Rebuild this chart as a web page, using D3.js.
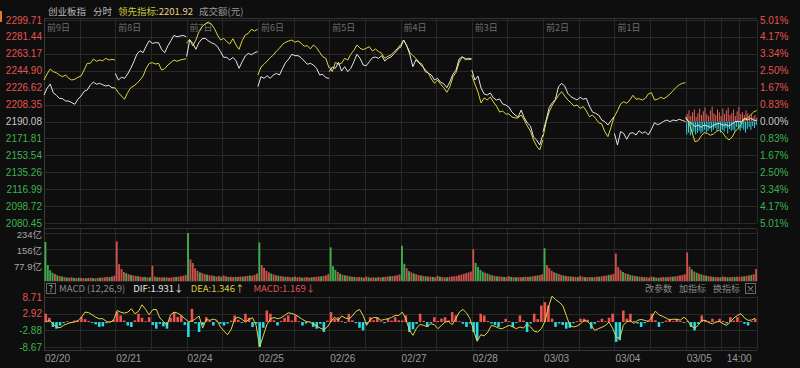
<!DOCTYPE html>
<html>
<head>
<meta charset="utf-8">
<script src="https://cdn.jsdelivr.net/npm/d3@7"></script>
<style>
  body { margin: 0; background: #0e0e0e; }
  text { font-family: "Noto Sans CJK SC", "Noto Sans", sans-serif; }
  text.num { font-family: "Liberation Sans", "Noto Sans CJK SC", sans-serif; }
</style>
</head>
<body>
<div class="svg-container"></div>
<script>
// axis labels
var dayNames = ["前9日", "前8日", "前7日", "前6日", "前5日", "前4日", "前3日", "前2日", "前1日", ""];
var dates = ["02/20", "02/21", "02/24", "02/25", "02/26", "02/27", "02/28", "03/03", "03/04", "03/05"];
var priceTicks = [2299.71, 2281.44, 2263.17, 2244.90, 2226.62, 2208.35, 2190.08, 2171.81, 2153.54, 2135.26, 2116.99, 2098.72, 2080.45];
var pctTicks = ["5.01%", "4.17%", "3.34%", "2.50%", "1.67%", "0.83%", "0.00%", "0.83%", "1.67%", "2.50%", "3.34%", "4.17%", "5.01%"];
var volTicks = [234, 156, 77.9];
var volTickLabels = ["234亿", "156亿", "77.9亿"];
var macdTicks = [8.71, 2.92, -2.88, -8.67];
var prevClose = 2190.08;

// 创业板指, 24 samples per day
var indexPrice = [
  [2218.7, 2226.0, 2230.6, 2221.2, 2218.4, 2215.1, 2214.7, 2212.2, 2212.2, 2210.4, 2208.7, 2214.1, 2217.6, 2222.7, 2224.1, 2229.5, 2232.7, 2230.3, 2231.3, 2229.8, 2228.4, 2229.2, 2226.6, 2226.3],
  [2242.1, 2234.9, 2237.8, 2236.7, 2241.4, 2247.5, 2254.6, 2262.9, 2266.5, 2264.4, 2271.6, 2277.3, 2274.5, 2275.2, 2275.2, 2268.0, 2264.4, 2271.6, 2277.3, 2283.1, 2281.6, 2282.4, 2283.1, 2281.6],
  [2260.1, 2278.1, 2274.6, 2268.1, 2275.2, 2279.5, 2279.9, 2277.3, 2275.2, 2273.8, 2270.9, 2265.5, 2259.4, 2259.4, 2256.5, 2259.4, 2255.7, 2247.5, 2254.6, 2260.8, 2263.7, 2262.2, 2264.4, 2265.5],
  [2227.7, 2238.5, 2236.7, 2239.5, 2236.7, 2240.3, 2242.1, 2240.3, 2247.5, 2254.0, 2257.6, 2262.7, 2261.2, 2261.2, 2259.0, 2255.4, 2251.9, 2252.9, 2251.1, 2247.5, 2240.3, 2241.1, 2237.4, 2236.7],
  [2243.9, 2248.9, 2247.5, 2254.0, 2244.6, 2249.3, 2243.9, 2247.5, 2254.7, 2262.7, 2258.3, 2251.1, 2250.3, 2254.7, 2259.0, 2259.7, 2258.3, 2261.2, 2255.4, 2258.3, 2259.7, 2263.3, 2267.0, 2270.6],
  [2269.8, 2278.1, 2272.0, 2262.7, 2249.3, 2256.8, 2253.3, 2249.7, 2246.1, 2242.1, 2240.3, 2234.9, 2236.7, 2232.4, 2230.9, 2226.6, 2233.1, 2241.1, 2245.7, 2257.6, 2260.1, 2256.8, 2258.3, 2257.6],
  [2245.7, 2234.9, 2239.2, 2226.3, 2219.8, 2218.7, 2220.9, 2215.5, 2213.3, 2214.4, 2209.0, 2207.9, 2205.7, 2200.3, 2197.1, 2194.9, 2202.5, 2193.9, 2188.5, 2185.2, 2173.3, 2170.1, 2164.7, 2175.5],
  [2179.1, 2191.7, 2205.4, 2210.4, 2214.1, 2227.7, 2231.3, 2228.4, 2220.5, 2216.9, 2215.1, 2213.3, 2216.2, 2214.1, 2215.1, 2206.8, 2200.3, 2198.9, 2197.1, 2191.7, 2189.9, 2186.3, 2191.0, 2195.3],
  [2177.3, 2164.7, 2179.1, 2177.3, 2170.9, 2177.3, 2178.0, 2175.5, 2180.1, 2177.3, 2179.1, 2175.5, 2181.7, 2188.8, 2186.6, 2188.1, 2190.3, 2191.7, 2189.9, 2191.7, 2190.9, 2192.5, 2191.2, 2190.1],
  [2193.5, 2189.9, 2188.1, 2184.5, 2186.3, 2183.8, 2186.3, 2185.2, 2183.8, 2186.0, 2187.4, 2188.1, 2186.0, 2186.6, 2185.2, 2187.4, 2189.9, 2190.3, 2189.5, 2193.5, 2191.7, 2193.5, 2191.7, 2190.9]
];

// 领先指标
var leadPrice = [
  [2234.9, 2241.4, 2246.8, 2243.9, 2242.8, 2240.3, 2238.4, 2240.3, 2236.7, 2234.9, 2235.7, 2237.8, 2239.2, 2245.7, 2252.9, 2252.9, 2257.6, 2255.1, 2256.5, 2255.7, 2258.3, 2256.5, 2257.2, 2256.5],
  [2226.0, 2221.2, 2217.6, 2214.1, 2221.2, 2226.6, 2228.4, 2231.3, 2234.9, 2239.2, 2247.5, 2252.9, 2253.6, 2252.2, 2252.9, 2245.7, 2247.1, 2251.1, 2253.6, 2256.5, 2255.1, 2256.5, 2257.2, 2257.9],
  [2274.6, 2278.9, 2271.6, 2278.1, 2287.1, 2292.5, 2295.4, 2297.5, 2295.4, 2290.7, 2283.5, 2278.1, 2279.9, 2276.3, 2273.8, 2279.5, 2272.7, 2268.1, 2277.3, 2283.5, 2285.3, 2289.7, 2287.8, 2289.7],
  [2240.3, 2248.9, 2251.9, 2255.4, 2259.0, 2261.9, 2266.2, 2269.2, 2273.5, 2275.7, 2277.1, 2278.1, 2275.7, 2277.1, 2274.6, 2271.4, 2272.0, 2268.5, 2272.7, 2269.8, 2264.8, 2260.1, 2258.3, 2248.2],
  [2249.3, 2243.9, 2254.0, 2251.9, 2252.9, 2258.3, 2256.5, 2262.7, 2267.0, 2272.7, 2269.2, 2267.7, 2269.2, 2270.9, 2266.2, 2268.4, 2265.5, 2263.7, 2258.3, 2260.5, 2261.9, 2265.5, 2268.4, 2272.7],
  [2272.0, 2278.1, 2272.0, 2264.8, 2261.2, 2258.3, 2254.0, 2251.9, 2243.9, 2242.5, 2236.0, 2231.3, 2234.9, 2230.3, 2226.6, 2221.6, 2227.7, 2238.5, 2243.2, 2254.0, 2259.7, 2258.3, 2256.8, 2257.6],
  [2240.3, 2230.6, 2222.0, 2210.1, 2215.5, 2213.3, 2216.5, 2211.1, 2206.8, 2200.3, 2201.4, 2198.2, 2198.2, 2194.9, 2193.9, 2193.9, 2197.1, 2191.7, 2185.2, 2179.8, 2170.1, 2163.6, 2159.3, 2170.1],
  [2173.7, 2189.9, 2200.7, 2207.9, 2213.3, 2218.4, 2222.3, 2217.6, 2213.3, 2210.4, 2206.8, 2207.9, 2204.3, 2206.1, 2201.7, 2195.3, 2197.1, 2193.5, 2188.8, 2187.4, 2179.1, 2173.7, 2183.8, 2195.3],
  [2195.3, 2201.7, 2209.0, 2211.5, 2209.7, 2213.3, 2218.4, 2214.1, 2214.7, 2213.3, 2215.1, 2219.8, 2221.2, 2213.3, 2214.1, 2216.2, 2214.7, 2216.9, 2219.8, 2223.3, 2227.0, 2229.8, 2231.3, 2232.0],
  [2195.3, 2188.8, 2179.1, 2168.3, 2169.3, 2174.4, 2178.0, 2177.3, 2175.2, 2176.6, 2179.5, 2180.9, 2178.0, 2173.0, 2170.1, 2173.0, 2179.1, 2182.7, 2187.4, 2192.5, 2193.9, 2197.1, 2200.3, 2201.9]
];

// today's buy / sell strength bars (points from prev close)
var buyBars = [8, 12, 6, 10, 13, 5, 9, 14, 7, 11, 15, 8, 6, 12, 16, 9, 7, 13, 10, 6, 14, 8, 12, 15, 7, 9, 13, 6, 11, 16, 8, 10, 7, 12, 9, 6, 8, 5, 7, 4];
var sellBars = [14, 12, 15, 13, 11, 14, 12, 10, 13, 11, 9, 12, 10, 8, 11, 9, 7, 10, 8, 12, 9, 11, 7, 13, 8, 10, 9, 11, 6, 8, 10, 7, 9, 12, 8, 6, 9, 5, 7, 4];

// 成交额 (亿), + up / - down, 30 per day
var volume = [
  [-190, -78, -52, -40, 34, -28, 24, -22, 19, -17, 16, 18, -15, 14, -16, 15, 14, -13, 15, 16, -14, 13, 15, -16, 17, 18, 20, -19, 22, 26],
  [193, 82, 58, 44, -38, 33, -30, 27, 25, -23, 21, 19, -20, 17, -18, 74, 22, -18, 19, 17, -18, 18, 16, 17, 19, -20, 21, 23, 26, 30],
  [-234, 105, 88, 62, 50, -42, 38, 34, -31, 28, 27, -24, 22, 24, -21, 27, 23, -20, 21, 19, -20, 20, 22, -21, 23, 25, -27, 26, 30, 36],
  [-188, 78, 64, 50, 42, -36, 32, 28, -26, 24, 22, -20, 21, 18, -19, 22, 18, 19, -16, 18, 19, 16, -18, 19, 21, 22, -23, 25, 27, 34],
  [-164, -72, -54, 44, -36, 30, -28, 26, -23, 21, -20, 18, 19, -18, 16, 22, -18, 16, 18, -16, 19, 17, -19, 20, 22, -23, 24, 26, 28, 32],
  [-172, -84, 62, -48, 42, -37, 33, 29, -27, 25, -23, 22, 21, -20, 19, 25, -21, 19, 18, -18, 20, 22, 23, 25, 28, 31, 35, 38, 42, 46],
  [155, -88, -68, -54, -46, 40, -36, 31, -28, 25, -23, 22, 21, -20, 19, 24, -20, 18, -18, 19, 18, -19, 21, 20, -21, 23, 25, -27, 29, 33],
  [-160, 78, 63, 50, 43, -38, 34, 30, -27, 25, 23, -22, 21, 20, -19, 25, 21, -19, 18, 19, -18, 19, 21, -21, 23, 25, 27, -29, 31, 35],
  [134, 68, 53, -44, 38, -34, 30, -27, 25, -23, 21, 20, -19, 18, 17, 22, -19, 17, -16, 18, 19, -18, 19, 21, -21, 23, 25, 27, 29, 33],
  [139, 70, -56, 46, -40, 36, -32, 28, -26, 24, 22, -20, 20, 18, -18, 22, 20, -18, 18, 20, -19, 21, 20, 22, -23, 25, 27, -29, 33, 58]
];

// MACD line and histogram, 20 per day
var macdLine = [
  0, 0.6, -0.6, -1.7, -2.0, -1.15, -0.6, -0.2, 0, 0.45, 1.7, 3.45, 3.3, 2.5, 1.7, 1.15, 1.15, 0.25, -0.1, 0.6,
  4.0, 3.45, 3.1, 3.45, 4.6, 2.9, 3.7, 6.0, 4.4, 2.5, 4.3, 4.4, 1.4, 0.2, -1.15, 2.5, 3.45, 3.1, 2.3, 1.15,
  0.2, 0.35, 1.15, 2.1, -2.1, 0.9, 0.6, 1.0, 0.6, -1.7, -3.2, -4.4, -2.5, 1.15, 1.7, 1.0, 0, 0.9, 1.5, -1.15,
  -8.6, -4.8, -0.9, 1.0, 1.6, 1.15, 1.5, 2.3, 3.2, 3.0, 2.5, 1.8, 0.9, 0.2, 0, -0.7, -1.4, -2.1, -2.6, -1.7,
  0.2, 1.7, 0.6, 2.1, 1.4, 1.15, 2.1, 3.7, 4.4, 2.3, -1.15, 0.9, 1.6, 1.5, 0.6, 0.9, 1.15, 1.6, 2.3, 2.3,
  3.45, 1.15, -2.9, -4.6, -2.1, -0.8, -1.15, -1.6, -0.6, -0.9, -2.3, -1.15, 0, 0.2, -0.9, 1.15, 3.45, 4.4, 3.2, 1.15,
  -2.9, -6.7, -4.4, -4.8, -3.45, -1.15, -1.5, -2.1, -2.3, -1.7, -1.15, -1.7, -2.3, -1.7, -2.1, -0.6, -1.7, -3.2, -3.45, -2.3,
  0.2, 5.2, 9.0, 7.8, 6.9, 5.75, 2.3, -1.15, -1.7, -1.4, -0.6, 0.6, 0.2, -1.15, -2.9, -2.3, -1.8, -1.15, 0, -2.1,
  -5.2, -5.75, -1.15, 0.2, 0.35, -0.45, 0.6, 0.9, 0.6, 0.2, 1.7, 3.8, 2.5, 2.0, 1.4, 0.7, 1.0, 0.9, 0.7, 1.7,
  0.6, -1.4, -2.1, -1.15, 0.6, 0.6, -0.2, -0.6, 0, 0.2, -0.6, -1.15, 0, 1.4, 2.3, 2.9, 1.4, 0.6, 0.7, 1.35
];
var macdBar = [
  2.9, 1.5, -1.7, -2.3, -1.2, -0.4, 0.3, -0.3, 0.5, 0.6, 1.7, 1.0, 0.4, -0.3, -0.8, -1.7, -1.5, -0.4, 0.3, 0.8,
  3.5, 2.3, 0.5, -1.2, -1.7, 0.6, 2.9, 1.5, 0.3, 1.7, -1.0, -2.3, -0.6, -1.5, -2.3, 1.5, 3.45, 1.8, 2.3, -1.0,
  -5.2, 4.6, -0.5, -3.45, -1.0, 1.7, 0.4, -1.2, 0.3, -0.6, -1.2, -0.5, 0.5, 2.3, 0.8, -0.3, 2.9, 1.5, -1.7, -0.6,
  -8.6, -2.0, 4.0, 2.9, 0.6, -1.2, 0.4, 1.5, 2.3, 0.5, 2.3, 0.3, -1.2, -0.5, 0.2, -1.7, -2.3, -0.6, -3.45, 0.5,
  3.45, 1.2, 1.7, 0.4, -0.3, 2.9, 0.6, -0.4, -2.0, -2.9, -0.6, 1.7, 0.6, 1.7, 0.3, -0.4, 1.15, 0.5, 1.7, 0.6,
  0.5, 2.3, -3.45, -2.5, -0.6, 2.9, 0.4, -1.7, -0.3, 1.7, 0.4, 1.2, 1.7, 0.6, 3.45, 2.3, 0.3, -0.6, -1.7, -0.5,
  -3.5, -6.3, 2.9, 2.3, 0.4, -0.5, -1.0, -1.7, -0.3, 1.15, 0.3, -1.7, -0.3, 2.3, 0.5, -3.45, -0.5, 2.9, 1.0, 5.75,
  6.9, 5.75, 1.2, -1.7, -0.5, -1.0, -2.3, -2.0, -0.4, 0.3, 1.15, 1.15, 0.8, -2.3, -0.6, 0.4, 1.15, 0.3, 1.5, 2.9,
  -6.9, -6.3, 4.0, 1.2, 2.9, 0.4, -0.5, -1.7, -0.4, 0.5, 2.9, 0.6, -1.7, -0.3, 0.5, 1.15, 0.3, 1.15, 0.4, -0.3,
  0.3, -1.7, -2.9, -0.6, 2.3, 0.6, 0.3, 1.15, 0.2, 1.15, 0.4, -0.5, 1.7, 0.5, 1.7, 0.3, -0.6, -1.2, 0.3, 1.15
];

var width = 800;
var height = 368;
var left = 44;
var right = 757;
var minutesPerDay = 240;
var gridColor = "#282828";
var red = "#e4544f";
var green = "#3cb34e";

var svg = d3.select(".svg-container").append("svg")
  .attr("width", width)
  .attr("height", height);

svg.append("rect").attr("width", width).attr("height", height).attr("fill", "#0e0e0e");

var x = d3.scaleLinear().domain([0, minutesPerDay * 10]).range([left, right]);
var y = d3.scaleLinear().domain([2080.45, 2299.71]).range([223, 20]);
var yVol = d3.scaleLinear().domain([0, 234]).range([281, 233]);
var yMacd = d3.scaleLinear().domain([-8.67, 8.71]).range([347, 297]);

// vertical grid positions: day edges, half days, quarters today
var vLines = [];
for (var d = 0; d < 10; d++) {
  vLines.push(d * minutesPerDay);
  vLines.push(d * minutesPerDay + 120);
}
vLines.push(9 * minutesPerDay + 60, 9 * minutesPerDay + 180, 10 * minutesPerDay);

function vGrid(y0, y1) {
  svg.append("g").selectAll("line").data(vLines).enter().append("line")
    .attr("x1", function(m) { return Math.round(x(m)) + 0.5; })
    .attr("x2", function(m) { return Math.round(x(m)) + 0.5; })
    .attr("y1", y0).attr("y2", y1)
    .attr("stroke", gridColor);
}

function hGrid(vals, scale) {
  svg.append("g").selectAll("line").data(vals).enter().append("line")
    .attr("x1", left).attr("x2", right)
    .attr("y1", function(v) { return Math.round(scale(v)) + 0.5; })
    .attr("y2", function(v) { return Math.round(scale(v)) + 0.5; })
    .attr("stroke", gridColor);
}

// main panel grid
vGrid(19, 223);
hGrid(priceTicks, y);
vGrid(229, 282);
hGrid(volTicks.concat([0]), yVol);
vGrid(296, 350);
hGrid(macdTicks, yMacd);

// frame lines
svg.append("line").attr("x1", left + 0.5).attr("x2", left + 0.5).attr("y1", 18).attr("y2", 351).attr("stroke", "#3a3a3a");
svg.append("line").attr("x1", left).attr("x2", right).attr("y1", 18.5).attr("y2", 18.5).attr("stroke", "#333");
svg.append("line").attr("x1", left).attr("x2", right).attr("y1", 350.5).attr("y2", 350.5).attr("stroke", "#333");
svg.append("line").attr("x1", left).attr("x2", right).attr("y1", 228.5).attr("y2", 228.5).attr("stroke", "#333");
svg.append("rect").attr("x", 0).attr("y", 11).attr("width", 2).attr("height", 11).attr("fill", "#e07a2a");

// price axis labels
svg.append("g").selectAll("text").data(priceTicks).enter().append("text")
  .attr("class", "num")
  .attr("x", 42).attr("y", function(v) { return y(v); })
  .attr("dy", "0.35em")
  .attr("text-anchor", "end")
  .attr("font-size", 10)
  .attr("fill", function(v) { return v > prevClose + 0.01 ? red : (v < prevClose - 0.01 ? green : "#c8c8c8"); })
  .text(function(v) { return v.toFixed(2); });

svg.append("g").selectAll("text").data(pctTicks).enter().append("text")
  .attr("class", "num")
  .attr("x", 760).attr("y", function(t, i) { return y(priceTicks[i]); })
  .attr("dy", "0.35em")
  .attr("font-size", 10)
  .attr("fill", function(t, i) { return i < 6 ? red : (i > 6 ? green : "#c8c8c8"); })
  .text(function(t) { return t; });

// day labels
svg.append("g").selectAll("text").data(dayNames).enter().append("text")
  .attr("x", function(t, i) { return x(i * minutesPerDay) + 3; })
  .attr("y", 31)
  .attr("font-size", 9)
  .attr("fill", "#6e6e6e")
  .text(function(t) { return t; });

// today's buy/sell bars
var barW = (x(minutesPerDay) - x(0)) / buyBars.length;
svg.append("g").selectAll("rect").data(sellBars).enter().append("rect")
  .attr("x", function(v, i) { return x(9 * minutesPerDay) + i * barW + 0.5; })
  .attr("y", y(prevClose))
  .attr("width", 1)
  .attr("height", function(v) { return y(prevClose - v) - y(prevClose); })
  .attr("fill", "#2fd8e0");
svg.append("g").selectAll("rect").data(buyBars).enter().append("rect")
  .attr("x", function(v, i) { return x(9 * minutesPerDay) + i * barW + 1; })
  .attr("y", function(v) { return y(prevClose + v); })
  .attr("width", 1)
  .attr("height", function(v) { return y(prevClose) - y(prevClose + v); })
  .attr("fill", "#e8615c");

// price lines, one path per day
function dayLine(d) {
  return d3.line()
    .x(function(v, i) { return x(d * minutesPerDay + i * 239 / 23); })
    .y(function(v) { return y(v); });
}
leadPrice.forEach(function(arr, d) {
  svg.append("path").datum(arr)
    .attr("d", dayLine(d))
    .attr("fill", "none")
    .attr("stroke", "#ddd43c")
    .attr("stroke-width", 1);
});
indexPrice.forEach(function(arr, d) {
  svg.append("path").datum(arr)
    .attr("d", dayLine(d))
    .attr("fill", "none")
    .attr("stroke", "#e6e6e6")
    .attr("stroke-width", 1);
});

// volume
var volStep = minutesPerDay / 30;
var volBars = [];
volume.forEach(function(arr, d) {
  arr.forEach(function(v, i) { volBars.push({ m: d * minutesPerDay + i * volStep, v: v }); });
});
svg.append("g").selectAll("rect").data(volBars).enter().append("rect")
  .attr("x", function(b) { return x(b.m) + 0.5; })
  .attr("y", function(b) { return yVol(Math.abs(b.v)); })
  .attr("width", x(volStep) - x(0) - 0.5)
  .attr("height", function(b) { return yVol(0) - yVol(Math.abs(b.v)); })
  .attr("fill", function(b) { return b.v > 0 ? "#c9534c" : "#3fae4d"; });

svg.append("g").selectAll("text").data(volTicks).enter().append("text")
  .attr("class", "num")
  .attr("x", 42).attr("y", function(v) { return yVol(v) + 1.5; })
  .attr("dy", "0.35em")
  .attr("text-anchor", "end")
  .attr("font-size", 9.5)
  .attr("fill", "#a8a8a8")
  .text(function(v, i) { return volTickLabels[i]; });

// MACD
var macdStep = minutesPerDay / 20;
svg.append("g").selectAll("rect").data(macdBar).enter().append("rect")
  .attr("x", function(v, i) { return x(i * macdStep) + 0.5; })
  .attr("y", function(v) { return v > 0 ? yMacd(v) : yMacd(0); })
  .attr("width", x(macdStep) - x(0) - 1)
  .attr("height", function(v) { return Math.abs(yMacd(v) - yMacd(0)); })
  .attr("fill", function(v) { return v > 0 ? "#ef5350" : "#29dbe6"; });

svg.append("path").datum(macdLine)
  .attr("d", d3.line()
    .x(function(v, i) { return x(i * macdStep + macdStep / 2); })
    .y(function(v) { return yMacd(v); }))
  .attr("fill", "none")
  .attr("stroke", "#e0d64a")
  .attr("stroke-width", 1);

svg.append("g").selectAll("text").data(macdTicks).enter().append("text")
  .attr("class", "num")
  .attr("x", 42).attr("y", function(v) { return yMacd(v); })
  .attr("dy", "0.35em")
  .attr("text-anchor", "end")
  .attr("font-size", 10)
  .attr("fill", function(v) { return v > 0 ? red : green; })
  .text(function(v) { return v.toFixed(2); });

// date axis
svg.append("g").selectAll("text").data(dates).enter().append("text")
  .attr("class", "num")
  .attr("x", function(t, i) { return x(i * minutesPerDay) + 1; })
  .attr("y", 362)
  .attr("font-size", 10)
  .attr("fill", "#9a9a9a")
  .text(function(t) { return t; });
svg.append("text")
  .attr("class", "num")
  .attr("x", x(9 * minutesPerDay + 180)).attr("y", 362)
  .attr("text-anchor", "middle")
  .attr("font-size", 10)
  .attr("fill", "#9a9a9a")
  .text("14:00");

// header
var header = svg.append("text").attr("x", 48).attr("y", 15).attr("font-size", 9.5);
header.append("tspan").attr("fill", "#b8b8b8").text("创业板指");
header.append("tspan").attr("dx", 7).attr("fill", "#b8b8b8").text("分时");
header.append("tspan").attr("dx", 6).attr("fill", "#c9c63c").text("领先指标:");
header.append("tspan").attr("fill", "#e8cf86").text("2201.92");
header.append("tspan").attr("dx", 6).attr("fill", "#9a9a9a").text("成交额(元)");

// MACD title row
svg.append("rect").attr("x", 46.5).attr("y", 283.5).attr("width", 9).attr("height", 10)
  .attr("fill", "none").attr("stroke", "#6a6a6a");
svg.append("text").attr("x", 51).attr("y", 292).attr("text-anchor", "middle")
  .attr("font-size", 9).attr("fill", "#bbb").text("?");
var mh = svg.append("text").attr("x", 59).attr("y", 292).attr("font-size", 9.5);
mh.append("tspan").attr("fill", "#8a8a8a").text("MACD (12,26,9)");
mh.append("tspan").attr("dx", 8).attr("fill", "#e6e6e6").text("DIF:1.931↓");
mh.append("tspan").attr("dx", 7).attr("fill", "#d6d03c").text("DEA:1.346↑");
mh.append("tspan").attr("dx", 9).attr("fill", "#e0524e").text("MACD:1.169↓");

var tools = ["改参数", "加指标", "换指标"];
svg.append("g").selectAll("text").data(tools).enter().append("text")
  .attr("x", function(t, i) { return 645 + i * 34; })
  .attr("y", 292)
  .attr("font-size", 9)
  .attr("fill", "#8a8a8a")
  .text(function(t) { return t; });
svg.append("rect").attr("x", 745.5).attr("y", 283.5).attr("width", 10).attr("height", 10)
  .attr("fill", "none").attr("stroke", "#6a6a6a");
svg.append("text").attr("x", 750.5).attr("y", 292).attr("text-anchor", "middle")
  .attr("font-size", 9).attr("fill", "#aaa").text("×");
</script>
</body>
</html>
